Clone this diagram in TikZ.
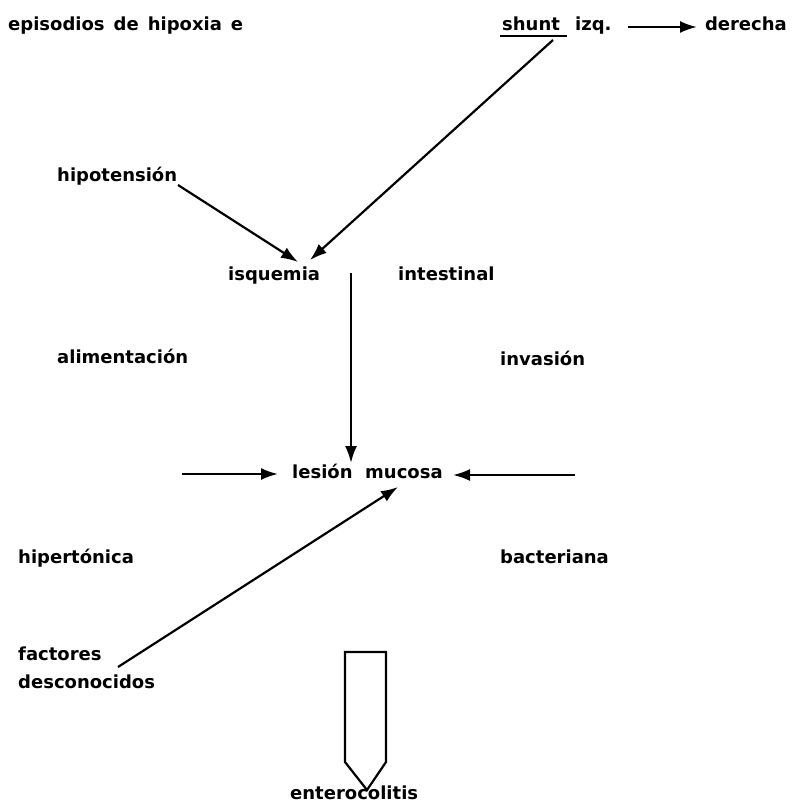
\documentclass[tikz,border=0pt]{standalone}
\usepackage{fontspec}
\setmainfont{DejaVu Sans}
\usetikzlibrary{arrows.meta}
\begin{document}
\begin{tikzpicture}[x=1pt, y=-1pt,
    texto/.style={anchor=base west, inner sep=0pt, font=\fontsize{18}{22}\selectfont\bfseries},
    flecha/.style={line width=2.2pt, -{Latex[length=17pt, width=12pt]}}]
    \useasboundingbox (0,0) rectangle (795,805);

    % textos
    \node[texto] (episodios) at (8,31) {episodios\hspace{0.5em}de\hspace{0.5em}hipoxia\hspace{0.5em}e};
    \node[texto] (shunt) at (502,31) {shunt};
    \node[texto] (izq) at (575,31) {izq.};
    \node[texto, anchor=base east] (derecha) at (787,31) {derecha};
    \node[texto] (hipotension) at (57,182) {hipotensión};
    \node[texto] (isquemia) at (228,280) {isquemia};
    \node[texto] (intestinal) at (398,280) {intestinal};
    \node[texto] (alimentacion) at (57,363) {alimentación};
    \node[texto] (invasion) at (500,365) {invasión};
    \node[texto] (lesion) at (292,478) {lesión\hspace{0.7em}mucosa};
    \node[texto] (hipertonica) at (18,563) {hipertónica};
    \node[texto] (bacteriana) at (500,563) {bacteriana};
    \node[texto] (factores) at (18,660) {factores};
    \node[texto] (desconocidos) at (18,688) {desconocidos};
    \node[texto] (enterocolitis) at (290,799) {enterocolitis};

    % extremos de las flechas
    \coordinate (izqfin) at (628,27);
    \coordinate (derechaini) at (697,27);
    \coordinate (shuntpie) at (553,40);
    \coordinate (hipopie) at (178,185);
    \coordinate (isqA) at (298,262);
    \coordinate (isqB) at (310,260);
    \coordinate (isqpie) at (351,273);
    \coordinate (lesionarriba) at (351,463);
    \coordinate (alimpie) at (182,474);
    \coordinate (lesionizq) at (278,474);
    \coordinate (invpie) at (575,475);
    \coordinate (lesionder) at (453,475);
    \coordinate (factpie) at (118,667);
    \coordinate (lesionabajo) at (398,487);

    % subrayado de shunt
    \draw[line width=1.6pt] (500,36) -- (567,36);

    % flechas
    \draw[flecha] (izqfin) -- (derechaini);
    \draw[flecha] (shuntpie) -- (isqB);
    \draw[flecha] (hipopie) -- (isqA);
    \draw[flecha] (isqpie) -- (lesionarriba);
    \draw[flecha] (alimpie) -- (lesionizq);
    \draw[flecha] (invpie) -- (lesionder);
    \draw[flecha] (factpie) -- (lesionabajo);

    % flecha gruesa hacia enterocolitis
    \draw[line width=2.2pt, line join=miter]
        (345,652) -- (386,652) -- (386,762) -- (367,790) -- (345,762) -- cycle;
\end{tikzpicture}
\end{document}
